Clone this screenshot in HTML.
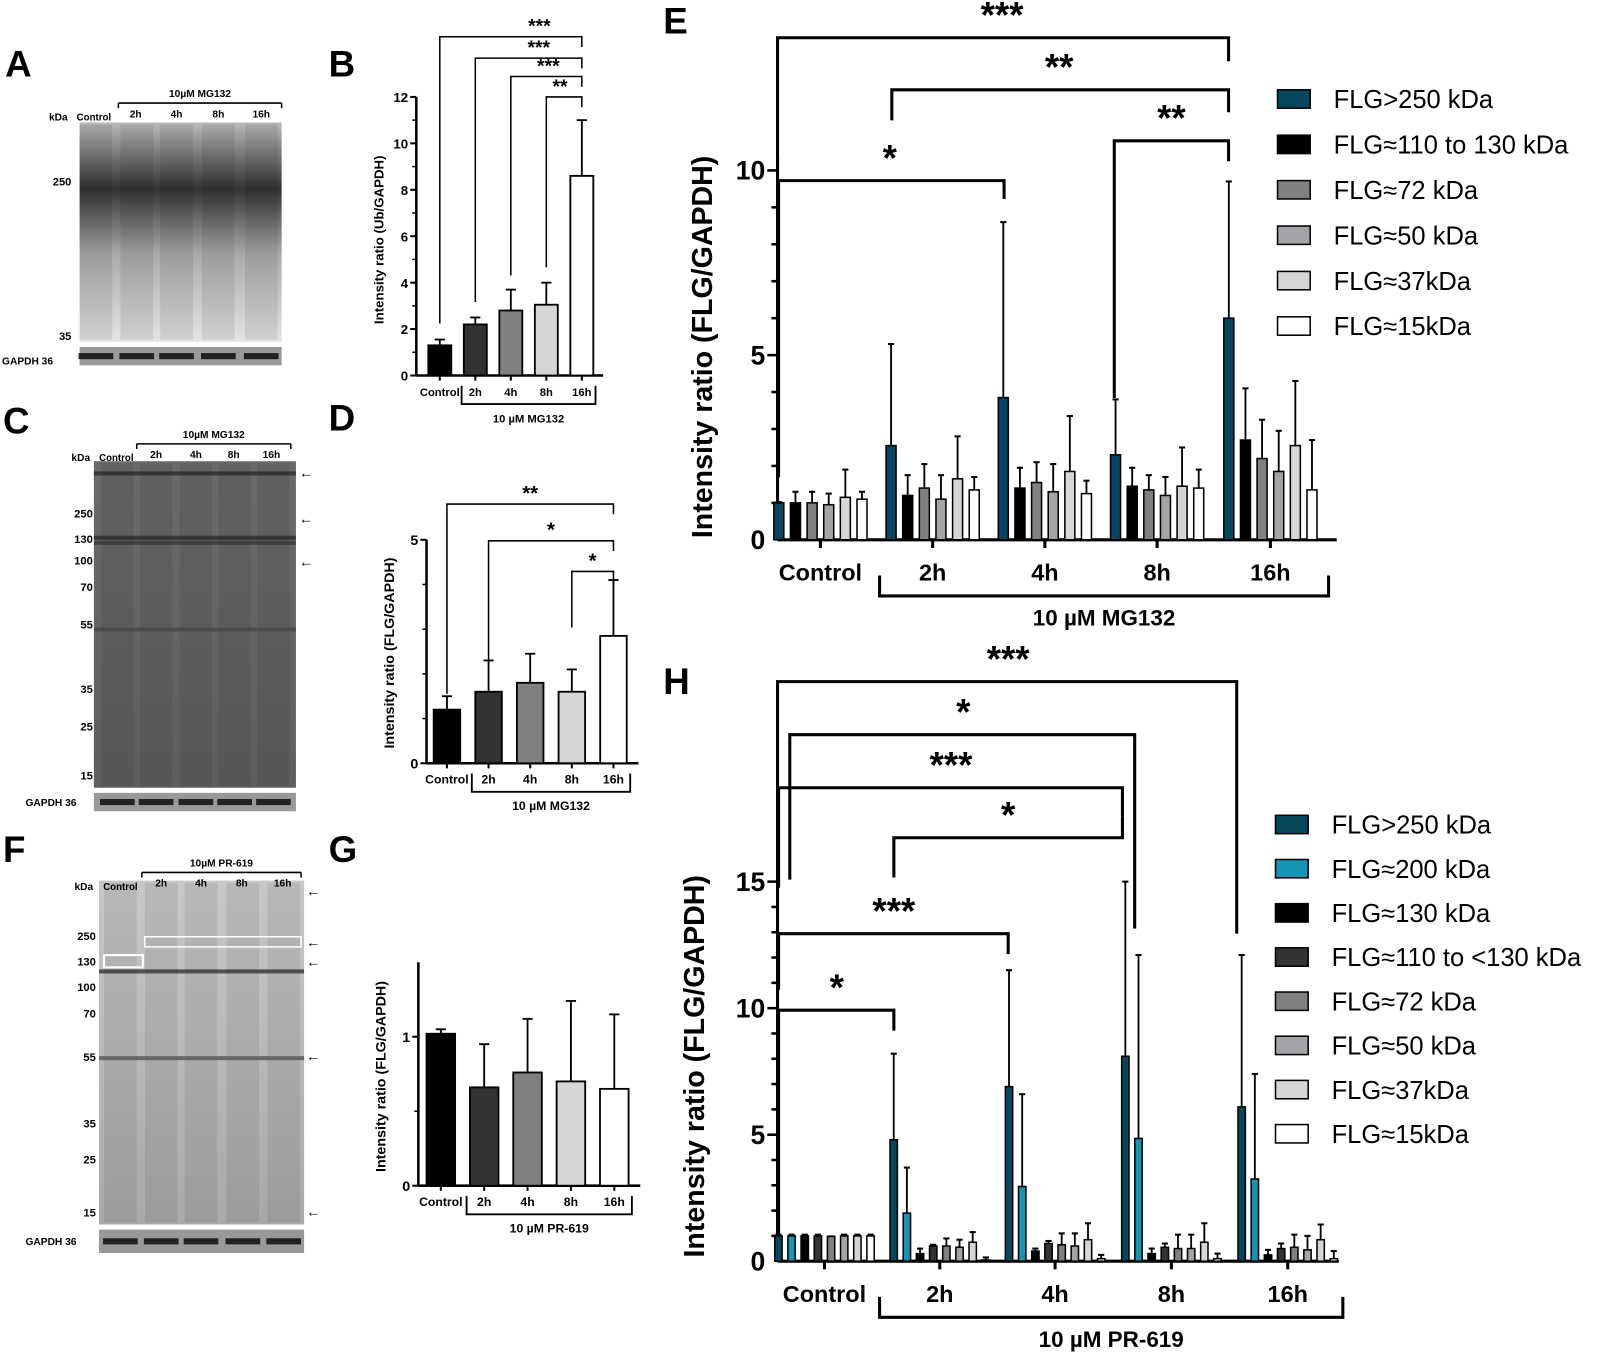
<!DOCTYPE html>
<html><head><meta charset="utf-8"><style>
body{margin:0;background:#fff;}
svg{display:block;font-family:"Liberation Sans",sans-serif;}
</style></head><body>
<svg id="fig" width="1600" height="1354" viewBox="0 0 1600 1354" xmlns="http://www.w3.org/2000/svg">
<defs>
<linearGradient id="blotA" x1="0" y1="0" x2="0" y2="1"><stop offset="0" stop-color="#bbb"/><stop offset="0.3" stop-color="#333"/><stop offset="0.6" stop-color="#aaa"/><stop offset="1" stop-color="#e4e4e4"/></linearGradient>
<linearGradient id="blotC" x1="0" y1="0" x2="0" y2="1"><stop offset="0" stop-color="#6a6a6a"/><stop offset="1" stop-color="#5e5e5e"/></linearGradient>
<linearGradient id="blotF" x1="0" y1="0" x2="0" y2="1"><stop offset="0" stop-color="#c8c8c8"/><stop offset="1" stop-color="#a9a9a9"/></linearGradient>
</defs>
<g id="root" transform="scale(1.0204)">
<g id="blots"></g>
<g id="charts"></g>
</g>
</svg>
<script>
// ---------- data ----------
const groupsSmall = ["Control","2h","4h","8h","16h"];
const bVals = [1.3,2.2,2.8,3.05,8.6];
const bErr = [1.55,2.5,3.7,4.0,11.0];
const bTicks = [0,2,4,6,8,10,12];
const dVals = [1.2,1.6,1.8,1.6,2.85];
const dErr = [1.5,2.3,2.45,2.1,4.1];
const dTicks = [0,5];
const gVals = [1.02,0.66,0.76,0.7,0.65];
const gErr = [1.05,0.95,1.12,1.24,1.15];
const gTicks = [0,1];
const smallFills = ["#000","#333","#808080","#d6d6d6","#fff"];

const eSeries = ["FLG>250 kDa","FLG≈110 to 130 kDa","FLG≈72 kDa","FLG≈50 kDa","FLG≈37kDa","FLG≈15kDa"];
const eFills = ["#06475e","#000","#808080","#a4a4a8","#d6d6d6","#fff"];
const eVals = [[1.0,2.55,3.85,2.3,6.0],[1.0,1.2,1.4,1.45,2.7],[1.0,1.4,1.55,1.35,2.2],[0.95,1.1,1.3,1.2,1.85],[1.15,1.65,1.85,1.45,2.55],[1.1,1.35,1.25,1.4,1.35]];
const eErr = [[1.02,5.3,8.6,3.8,9.7],[1.3,1.75,1.95,1.95,4.1],[1.3,2.05,2.1,1.75,3.25],[1.25,1.75,2.05,1.7,2.95],[1.9,2.8,3.35,2.5,4.3],[1.3,1.7,1.6,1.9,2.7]];
const eTicks = [0,5,10];

const hSeries = ["FLG>250 kDa","FLG≈200 kDa","FLG≈130 kDa","FLG≈110 to <130 kDa","FLG≈72 kDa","FLG≈50 kDa","FLG≈37kDa","FLG≈15kDa"];
const hFills = ["#06475e","#1596b4","#000","#333","#808080","#a4a4a8","#d6d6d6","#fff"];
const hVals = [[1.0,4.8,6.9,8.1,6.1],[1.0,1.9,2.95,4.85,3.25],[1.0,0.3,0.4,0.3,0.25],[1.0,0.6,0.7,0.55,0.5],[0.98,0.6,0.65,0.5,0.55],[1.0,0.55,0.6,0.5,0.45],[1.0,0.75,0.85,0.75,0.85],[1.0,0.05,0.1,0.1,0.1]];
const hErr = [[1.05,8.2,11.5,15,12.1],[1.05,3.7,6.6,12.1,7.4],[1.05,0.5,0.5,0.5,0.45],[1.05,0.65,0.8,0.7,0.7],[0.98,0.9,1.1,1.05,1.05],[1.05,0.85,1.1,1.05,1.0],[1.05,1.15,1.5,1.5,1.45],[1.05,0.15,0.25,0.3,0.4]];
const hTicks = [0,5,10,15];

// brackets: [fromGroup, toGroup, label]
const bBr = [[0,4,"***"],[1,4,"***"],[2,4,"***"],[3,4,"**"]];
const dBr = [[0,4,"**"],[1,4,"*"],[3,4,"*"]];
const eBr = [[0,4,"***"],[1,4,"**"],[0,2,"*"],[3,4,"**"]];
const hBr = [[0,4,"***"],[0,3,"*"],[0,3,"***"],[1,3,"*"],[0,2,"***"],[0,1,"*"]];

// ---------- helpers ----------
const NS="http://www.w3.org/2000/svg";
function mk(tag,attrs,parent,text){const e=document.createElementNS(NS,tag);for(const k in attrs)e.setAttribute(k,attrs[k]);if(text!==undefined)e.textContent=text;(parent||document.getElementById('charts')).appendChild(e);return e;}

function smallChart(o){
  const g=mk('g',{});
  
  
  const y=v=>o.y0-v*o.k;
  const x=i=>o.x0+o.c0+i*o.step;
  mk('line',{x1:o.x0,y1:o.y0,x2:o.x0,y2:y(o.ymax),stroke:'#000','stroke-width':2.5},g);
  mk('line',{x1:o.x0,y1:o.y0,x2:x(4)+o.step*0.6,y2:o.y0,stroke:'#000','stroke-width':2.5},g);
  o.ticks.forEach(t=>{mk('line',{x1:o.x0-6,y1:y(t),x2:o.x0,y2:y(t),stroke:'#000','stroke-width':2},g);
    const tl=mk('text',{x:o.x0-8,y:y(t)+5,'text-anchor':'end','font-size':o.fs+2,'font-weight':'bold'},g,t);
    });
  if(o.minor) o.minor.forEach(t=>mk('line',{x1:o.x0-4,y1:y(t),x2:o.x0,y2:y(t),stroke:'#000','stroke-width':1.5},g));
  o.vals.forEach((v,i)=>{
    mk('line',{x1:x(i),y1:y(v),x2:x(i),y2:y(o.err[i]),stroke:'#000','stroke-width':1.8},g);
    mk('line',{x1:x(i)-5,y1:y(o.err[i]),x2:x(i)+5,y2:y(o.err[i]),stroke:'#000','stroke-width':1.8},g);
    const r=mk('rect',{x:x(i)-o.bw/2,y:y(v),width:o.bw,height:v*o.k,fill:smallFills[i],stroke:'#000','stroke-width':1.8},g);
    
    mk('line',{x1:x(i),y1:o.y0,x2:x(i),y2:o.y0+5,stroke:'#000','stroke-width':2},g);
    const t=mk('text',{x:x(i),y:o.y0+20,'text-anchor':'middle','font-size':o.fs,'font-weight':'bold'},g,groupsSmall[i]);
    
  });
  const bx1=x(1)-o.step*0.5+4,bx2=x(4)+o.step*0.5-4;
  mk('path',{d:`M${bx1} ${o.y0+10}V${o.y0+28}H${bx2}V${o.y0+10}`,fill:'none',stroke:'#000','stroke-width':1.8},g);
  const gl=mk('text',{x:(bx1+bx2)/2,y:o.y0+46,'text-anchor':'middle','font-size':o.fs,'font-weight':'bold'},g,o.group);
  
  const yt=mk('text',{x:0,y:0,transform:`translate(${o.x0-32},${o.ytY}) rotate(-90)`,'text-anchor':'middle','font-size':o.fs+2,'font-weight':'bold'},g,o.ytitle);
  
  o.br.forEach((b,j)=>{
    const yy=o.brY[j];const xa=x(b[0]),xb=x(b[1]);
    mk('path',{d:`M${xa} ${o.brStart[j]}V${yy}H${xb}V${yy+10}`,fill:'none',stroke:'#000','stroke-width':1.5},g);
    const s=mk('text',{x:(xa+xb)/2+o.starOff[j],y:yy-4,'text-anchor':'middle','font-size':o.fs+8,'font-weight':'bold'},g,b[2]);
    
  });
}

function bigChart(o){
  const g=mk('g',{});
  
  
  const y=v=>o.y0-v*o.k;
  const n=o.vals.length;
  const bx=(gi,si)=>o.gc[gi]+(si-(n-1)/2)*o.bs;
  mk('line',{x1:o.x0,y1:o.y0,x2:o.x0,y2:y(o.ymax),stroke:'#000','stroke-width':3},g);
  mk('line',{x1:o.x0,y1:o.y0,x2:o.xend,y2:o.y0,stroke:'#000','stroke-width':3},g);
  for(let t=1;t<=Math.floor(o.ymax);t++){mk('line',{x1:o.x0-(t%5?6:10),y1:y(t),x2:o.x0,y2:y(t),stroke:'#000','stroke-width':2.5},g);}
  o.ticks.forEach(t=>{const tl=mk('text',{x:o.x0-12,y:y(t)+9,'text-anchor':'end','font-size':26,'font-weight':'bold'},g,t);
    });
  o.vals.forEach((ser,si)=>ser.forEach((v,gi)=>{
    const cx=bx(gi,si);const e=o.err[si][gi];
    mk('line',{x1:cx,y1:y(v),x2:cx,y2:y(e),stroke:'#000','stroke-width':1.8},g);
    mk('line',{x1:cx-3,y1:y(e),x2:cx+3,y2:y(e),stroke:'#000','stroke-width':2},g);
    const r=mk('rect',{x:cx-o.bw/2,y:y(v),width:o.bw,height:v*o.k,fill:o.fills[si],stroke:'#000','stroke-width':1.5},g);
    
  }));
  groupsSmall.forEach((lab,gi)=>{
    mk('line',{x1:o.gc[gi],y1:o.y0,x2:o.gc[gi],y2:o.y0+8,stroke:'#000','stroke-width':3},g);
    const t=mk('text',{x:o.gc[gi],y:o.y0+40,'text-anchor':'middle','font-size':23,'font-weight':'bold'},g,lab);
    
  });
  mk('path',{d:`M${o.gbx1} ${o.y0+35}V${o.y0+55}H${o.gbx2}V${o.y0+35}`,fill:'none',stroke:'#000','stroke-width':3},g);
  const gl=mk('text',{x:(o.gbx1+o.gbx2)/2,y:o.y0+84,'text-anchor':'middle','font-size':22,'font-weight':'bold'},g,o.group);
  
  const yt=mk('text',{x:0,y:0,transform:`translate(${o.ytX},${o.ytY}) rotate(-90)`,'text-anchor':'middle','font-size':28,'font-weight':'bold'},g,o.ytitle);
  
  o.br.forEach((b,j)=>{
    const yy=o.brY[j];
    const xa=o.brX[j];
    const xb=o.brEnd[j];
    mk('path',{d:`M${xa} ${o.brStart[j]}V${yy}H${xb}V${o.brEndY[j]}`,fill:'none',stroke:'#000','stroke-width':3},g);
    const s=mk('text',{x:o.starX[j],y:yy-10,'text-anchor':'middle','font-size':36,'font-weight':'bold'},g,b[2]);
    
  });
  o.series.forEach((s,i)=>{
    const ly=o.legY+i*o.legStep;
    const lg=mk('g',{},g);
    
    mk('rect',{x:o.legX,y:ly-9,width:32,height:18,fill:o.fills[i],stroke:'#000','stroke-width':1.5},lg);
    mk('text',{x:o.legX+55,y:ly+9,'font-size':25},lg,s);
  });
}

smallChart({name:'chart-b-ub',x0:408,y0:368,k:22.75,ymax:12,ticks:bTicks,minor:[1,3,5,7,9,11],c0:23,step:34.8,bw:22.5,vals:bVals,err:bErr,fs:11,group:'10 µM MG132',ytitle:'Intensity ratio (Ub/GAPDH)',ytY:235,
  br:bBr,brY:[36,57,75,95],brStart:[317,296,270,262],starOff:[28,10,2,-4]});
smallChart({name:'chart-d-flg',x0:418,y0:748,k:43.8,ymax:5,ticks:dTicks,minor:[1,2,3,4],c0:20,step:40.8,bw:26,vals:dVals,err:dErr,fs:12,group:'10 µM MG132',ytitle:'Intensity ratio (FLG/GAPDH)',ytY:640,
  br:dBr,brY:[494,530,560],brStart:[680,648,615],starOff:[0,0,0]});
smallChart({name:'chart-g-flg',x0:410,y0:1162,k:146,ymax:1.5,ticks:gTicks,minor:[0.5],c0:22,step:42.5,bw:28,vals:gVals,err:gErr,fs:12,group:'10 µM PR-619',ytitle:'Intensity ratio (FLG/GAPDH)',ytY:1055,
  br:[],brY:[],brStart:[],starOff:[]});

bigChart({name:'chart-e-flg-mg132',x0:762,y0:529,k:36.2,ymax:10.4,xend:1310,ticks:eTicks,gc:[804,914,1024,1134,1245],bs:16.3,bw:9.8,vals:eVals,err:eErr,fills:eFills,series:eSeries,
  group:'10 µM MG132',gbx1:862,gbx2:1302,ytitle:'Intensity ratio (FLG/GAPDH)',ytX:698,ytY:340,
  br:eBr,brX:[762,874,763,1092],brY:[37,88,177,138],brStart:[160,118,468,390],brEnd:[1204,1204,984,1204],brEndY:[60,110,195,158],starX:[982,1038,872,1148],
  legX:1252,legY:97,legStep:44.5});
bigChart({name:'chart-h-flg-pr619',x0:762,y0:1236,k:24.8,ymax:15.4,xend:1312,ticks:hTicks,gc:[808,921,1034,1148,1262],bs:12.9,bw:7.2,vals:hVals,err:hErr,fills:hFills,series:hSeries,
  group:'10 µM PR-619',gbx1:862,gbx2:1316,ytitle:'Intensity ratio (FLG/GAPDH)',ytX:690,ytY:1045,
  br:hBr,brX:[762,774,763,876,763,763],brY:[668,720,772,821,915,990],brStart:[855,862,870,860,970,1210],brEnd:[1212,1112,1100,1100,988,876],brEndY:[915,910,800,800,935,1010],starX:[988,944,932,988,876,820],
  legX:1250,legY:808,legStep:43.3});

// ---------- blots ----------
const B=document.getElementById('blots');
function blot(x,y,w,h,fill,lanes,gx,gy,gh,name){
  const g=mk('g',{},B);
  
  mk('rect',{x,y,width:w,height:h,fill},g);
  lanes.forEach(lx=>mk('rect',{x:lx-16,y:y+2,width:32,height:h-4,fill:'#000',opacity:0.08},g));
  mk('rect',{x:gx,y:gy,width:w,height:gh,fill:'#999'},g);
  lanes.forEach(lx=>mk('rect',{x:lx-17,y:gy+gh/2-3,width:34,height:6,fill:'#222'},g));
}
blot(78,120,198,215,'url(#blotA)',[94,134,173,214,256],78,340,18,'blot-a');
blot(92,452,198,320,'url(#blotC)',[115,153,192,230,268],92,777,18,'blot-c');
blot(97,863,201,337,'url(#blotF)',[118,158,197,238,278],97,1205,23,'blot-f');
[[462,'#222'],[525,'#222'],[530,'#333'],[615,'#444']].forEach(b=>mk('rect',{x:92,y:b[0],width:198,height:4,fill:b[1],opacity:0.7},B));
[[950,'#333'],[1035,'#555']].forEach(b=>mk('rect',{x:97,y:b[0],width:201,height:4,fill:b[1],opacity:0.8},B));
mk('rect',{x:102,y:936,width:38,height:12,fill:'none',stroke:'#fff','stroke-width':2},B);
mk('rect',{x:142,y:918,width:153,height:10,fill:'none',stroke:'#fff','stroke-width':1.5},B);

function txt(x,y,s,fs,anchor,name,bold){const t=mk('text',{x,y,'font-size':fs,'text-anchor':anchor||'start','font-weight':bold===false?'normal':'bold'},B,s);return t;}
[['A',5,75],['B',322,75],['C',3,425],['D',322,422],['E',650,33],['F',3,845],['G',322,845],['H',650,680]].forEach(p=>txt(p[1],p[2],p[0],36,'start','panel-label-'+p[0].toLowerCase()));
function header(x1,x2,y,title,lanes,labels,ctrlX,kdaX,name){
  txt((x1+x2)/2,y-6,title,10,'middle',name+'-treatment');
  mk('line',{x1,y1:y,x2,y2:y,stroke:'#000','stroke-width':1.5},B);
  mk('line',{x1,y1:y,x2:x1,y2:y+5,stroke:'#000','stroke-width':1.5},B);
  mk('line',{x1:x2,y1:y,x2:x2,y2:y+5,stroke:'#000','stroke-width':1.5},B);
  txt(kdaX,y+17,'kDa',10,'start',name+'-kda');
  txt(ctrlX,y+17,'Control',9.5,'middle',name+'-control');
  labels.forEach((l,i)=>txt(lanes[i],y+14,l,10,'middle',name+'-lane'));
}
header(116,276,101,'10µM MG132',[133,173,214,256],['2h','4h','8h','16h'],92,48,'blot-a');
header(134,285,435,'10µM MG132',[153,192,229,266],['2h','4h','8h','16h'],114,70,'blot-c');
header(139,295,855,'10µM PR-619',[158,197,237,277],['2h','4h','8h','16h'],118,73,'blot-f');
[['250',182],['35',333]].forEach(m=>txt(70,m[1],m[0],11,'end','mw-marker-a'));
txt(2,357,'GAPDH  36',10,'start','gapdh-label-a');
[['250',507],['130',532],['100',553],['70',579],['55',616],['35',679],['25',716],['15',764]].forEach(m=>txt(91,m[1],m[0],11,'end','mw-marker-c'));
txt(25,790,'GAPDH  36',10,'start','gapdh-label-c');
[['250',921],['130',946],['100',971],['70',997],['55',1040],['35',1105],['25',1140],['15',1192]].forEach(m=>txt(94,m[1],m[0],11,'end','mw-marker-f'));
txt(25,1220,'GAPDH  36',10,'start','gapdh-label-f');
[[293,464],[293,509],[293,551],[300,874],[300,924],[300,943],[300,1036],[300,1188]].forEach(a=>{
  txt(a[0],a[1]+4,'←',14,'start','band-arrow',false);
});
</script>
</body></html>
